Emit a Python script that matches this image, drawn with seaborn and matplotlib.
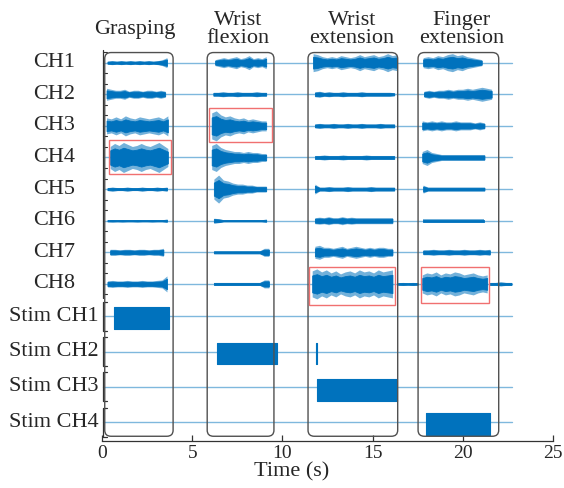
import numpy as np
import pandas as pd
import matplotlib
matplotlib.use("Agg")
import matplotlib.pyplot as plt
import seaborn as sns
from matplotlib.patches import FancyBboxPatch, Rectangle

# channel names and their vertical slots (row units, top = 0)
channels = ["CH1", "CH2", "CH3", "CH4", "CH5", "CH6", "CH7", "CH8",
            "Stim CH1", "Stim CH2", "Stim CH3", "Stim CH4"]
row_pos = [0, 1, 2, 3, 4, 5, 6, 7, 8.02, 9.15, 10.25, 11.38]

# recording span (s)
rec_start = 0.05
rec_end = 22.73

# task windows (s)
tasks = ["Grasping", "Wrist\nflexion", "Wrist\nextension", "Finger\nextension"]
task_start = [0.15, 5.83, 11.42, 17.52]
task_end = [3.94, 9.53, 16.39, 21.99]
task_label_x = [1.83, 7.55, 13.85, 19.95]

# EMG bursts: channel -> list of (t0, t1, half-amplitude samples, px)
emg_bursts = {
    "CH1": [(0.3, 3.6, [1.5, 2, 1.5, 2, 1.5, 2, 1.5, 2, 1.5, 2, 1.5, 2, 3, 5]),
            (6.27, 9.1, [3, 4, 5, 4, 5, 6, 4, 5, 7, 4, 5, 4, 6]),
            (11.7, 16.35, [9, 8, 6, 5, 6, 5, 7, 6, 5, 6, 8, 6, 7, 8, 6, 7, 9, 7, 8]),
            (17.8, 21.05, [5, 6, 5, 7, 6, 8, 9, 7, 8, 6, 5, 4, 3])],
    "CH2": [(0.25, 3.5, [6, 5, 4, 4, 5, 3, 4, 4, 3, 4, 4, 3, 4, 3]),
            (6.17, 9.1, [2, 2, 2.5, 2, 2, 2.5, 2, 2, 2, 2.5, 2, 2]),
            (11.8, 16.2, [2.5, 3, 2, 2.5, 2, 2, 2.5, 2, 2, 2, 2.5, 2, 2, 2, 2, 2, 2, 1.5]),
            (17.85, 21.6, [3, 4, 3, 4, 4, 5, 4, 5, 5, 6, 5, 6, 7, 6, 5])],
    "CH3": [(0.25, 3.65, [8, 7, 9, 7, 10, 8, 7, 9, 8, 7, 8, 9, 7, 10]),
            (6.08, 9.1, [13, 15, 11, 9, 10, 8, 7, 8, 6, 7, 6, 5, 5]),
            (11.8, 16.2, [2, 2.5, 2, 2, 2.5, 2, 2, 2.5, 2, 2, 2.5, 2, 2, 2, 2.5, 2, 2, 2]),
            (17.75, 21.2, [5, 4, 5, 4, 5, 4, 4, 5, 4, 4, 4, 3, 4, 3])],
    "CH4": [(0.45, 3.65, [11, 14, 12, 15, 13, 11, 12, 14, 12, 11, 13, 15, 12, 9]),
            (6.08, 9.1, [12, 14, 10, 8, 7, 6, 6, 5, 6, 5, 5, 4, 4]),
            (11.8, 16.2, [2, 2, 2.5, 2, 2, 2, 2.5, 2, 2, 2, 2, 2.5, 2, 2, 2, 2, 2, 2]),
            (17.75, 21.2, [6, 8, 5, 4, 3, 3, 3, 3, 3, 3, 3, 3, 3, 3])],
    "CH5": [(0.3, 3.6, [1.5, 2, 1.5, 1.5, 2, 1.5, 1.5, 2, 1.5, 1.5, 2, 1.5, 2]),
            (6.2, 9.1, [10, 14, 9, 8, 6, 5, 5, 4, 4, 3, 3, 3]),
            (11.8, 16.2, [5, 2, 2, 2.5, 2, 2, 2, 2.5, 2, 2, 2, 2, 2.5, 2, 2, 2, 2, 2]),
            (17.8, 21.2, [4, 2, 2, 2, 2, 2, 2, 2, 2, 2, 2, 2, 2, 2])],
    "CH6": [(0.3, 3.6, [1, 1.2, 1, 1.2, 1, 1, 1.2, 1, 1, 1.2, 1, 1, 1.5]),
            (6.2, 9.1, [2.5, 2, 1, 1, 1, 1, 1, 1, 1, 1, 1, 1.5]),
            (11.8, 16.1, [3, 3.5, 3, 4, 3, 3, 4, 3, 3.5, 3, 3, 3, 3, 3, 3, 3, 3, 3]),
            (17.8, 21.2, [1.5, 1.5, 1.5, 1.5, 1.5, 1.5, 1.5, 1.5, 1.5, 1.5, 1.5, 1.5, 1.5, 1.5])],
    "CH7": [(0.45, 3.4, [3, 3, 2.5, 3, 3, 2.5, 3, 3, 2.5, 3, 3, 4]),
            (6.2, 9.25, [1.5, 1.5, 1.5, 1.5, 1.5, 1.5, 1.5, 1.5, 1.5, 1.5, 1.5, 4, 4]),
            (11.8, 16.1, [6, 7, 5, 5, 4, 5, 6, 4, 5, 6, 5, 4, 5, 4, 5, 5, 4, 4]),
            (17.8, 21.5, [2.5, 2.5, 3, 2.5, 2.5, 3, 2.5, 2.5, 3, 2.5, 2.5, 3, 2.5, 3])],
    "CH8": [(0.3, 3.6, [3, 3.5, 3, 3, 3.5, 3, 3, 3.5, 3, 3, 3.5, 4, 8]),
            (6.2, 9.25, [1.5, 1.5, 1.5, 1.5, 1.5, 1.5, 1.5, 1.5, 1.5, 1.5, 1.5, 4, 4]),
            (11.65, 16.1, [13, 15, 12, 14, 11, 13, 10, 12, 13, 11, 14, 12, 13, 11, 14, 12, 13, 14]),
            (16.4, 17.5, [1.2, 1.5, 1.2, 1.5, 1.2]),
            (17.75, 21.35, [9, 11, 10, 12, 9, 11, 10, 12, 11, 9, 10, 11, 9, 8, 9]),
            (21.5, 22.7, [1.5, 1.5, 2, 1.5, 1.5])],
}

# stimulation trains: channel -> list of (t0, t1, up px, down px)
stim_trains = {
    "Stim CH1": [(0.67, 3.7, 8.7, 13.3)],
    "Stim CH2": [(6.35, 9.7, 9, 12), (11.88, 11.93, 9, 12)],
    "Stim CH3": [(11.9, 16.33, 7.5, 14.5)],
    "Stim CH4": [(17.95, 21.5, 9, 12.5)],
}

# highlighted signals (red boxes): (t0, t1, row top, row bottom)
highlights = [(5.95, 9.4, 1.43, 2.51),
              (0.4, 3.8, 2.45, 3.52),
              (11.5, 16.25, 6.47, 7.67),
              (17.7, 21.45, 6.47, 7.60)]

px_per_row = 31.6
blue = "#0072BD"

sns.set_theme(style="white")
plt.rcParams["font.family"] = ["Liberation Serif", "DejaVu Serif"]

fig = plt.figure(figsize=(5.64, 4.88), dpi=100)
ax = fig.add_axes([0.1809, 0.0963, 0.7996, 0.8012])

# baselines
base_df = pd.DataFrame({
    "channel": np.repeat(channels, 2),
    "t": [rec_start, rec_end] * len(channels),
    "y": np.repeat(row_pos, 2),
})
sns.lineplot(data=base_df, x="t", y="y", units="channel", estimator=None,
             color=blue, lw=1.0, alpha=0.5, ax=ax, legend=False)

# EMG bursts: faint outer spikes + dense core
for ch, bursts in emg_bursts.items():
    y0 = row_pos[channels.index(ch)]
    for t0, t1, amps in bursts:
        a = np.array(amps) / px_per_row
        t = np.linspace(t0, t1, len(a))
        ax.fill_between(t, y0 - a, y0 + a, color=blue, alpha=0.55, lw=0)
        ax.fill_between(t, y0 - 0.65 * a, y0 + 0.65 * a, color=blue, lw=0.6,
                        edgecolor=blue)

# stimulation blocks
for ch, trains in stim_trains.items():
    y0 = row_pos[channels.index(ch)]
    for t0, t1, up, down in trains:
        ax.fill_between([t0, t1], y0 - up / px_per_row, y0 + down / px_per_row,
                        color=blue, lw=0.8, edgecolor=blue)

# task boxes
for x0, x1, lab, lx in zip(task_start, task_end, tasks, task_label_x):
    ax.add_patch(FancyBboxPatch((x0, -0.32), x1 - x0, 12.14,
                                boxstyle="round,pad=0,rounding_size=0.35",
                                mutation_aspect=0.55, fill=False,
                                edgecolor="#505050", lw=1.0, zorder=3))
    ax.text(lx, 1.052, lab, transform=ax.get_xaxis_transform(), ha="center",
            va="center", fontsize=16, linespacing=0.95, clip_on=False)

for x0, x1, y0, y1 in highlights:
    ax.add_patch(Rectangle((x0, y0), x1 - x0, y1 - y0, fill=False,
                           edgecolor="#f07070", lw=1.0, zorder=4))

# channel labels and per-channel scale brackets
for ch, y in zip(channels, row_pos):
    ax.text(-2.66, y, ch, ha="center", va="center", fontsize=16, clip_on=False)
    if ch.startswith("Stim"):
        ax.plot([0.3, 0.05, 0.05, 0.3], [y - 0.46, y - 0.46, y + 0.46, y + 0.46],
                color="#333333", lw=0.9, clip_on=False)
    else:
        for d in (-0.33, 0.33):
            ax.plot([0.05, 0.25], [y + d, y + d], color="#333333", lw=0.8,
                    clip_on=False)
ax.plot([0.05, 0.05], [-0.40, 7.45], color="#333333", lw=0.9, clip_on=False)

ax.set_xlim(0, 25)
ax.set_ylim(11.97, -0.40)
ax.set_yticks([])
ax.set_xticks([0, 5, 10, 15, 20, 25])
ax.tick_params(axis="x", direction="in", length=4, width=0.9, labelsize=14,
               pad=3, bottom=True, color="#333333")
for s in ["top", "right", "left"]:
    ax.spines[s].set_visible(False)
ax.spines["bottom"].set_color("#333333")
ax.spines["bottom"].set_linewidth(0.9)
ax.set_xlabel("Time (s)", fontsize=16, labelpad=0, va="center")
ax.xaxis.set_label_coords(10.5 / 25, -0.078)
ax.set_ylabel("")

fig.savefig("out.png", dpi=100)
